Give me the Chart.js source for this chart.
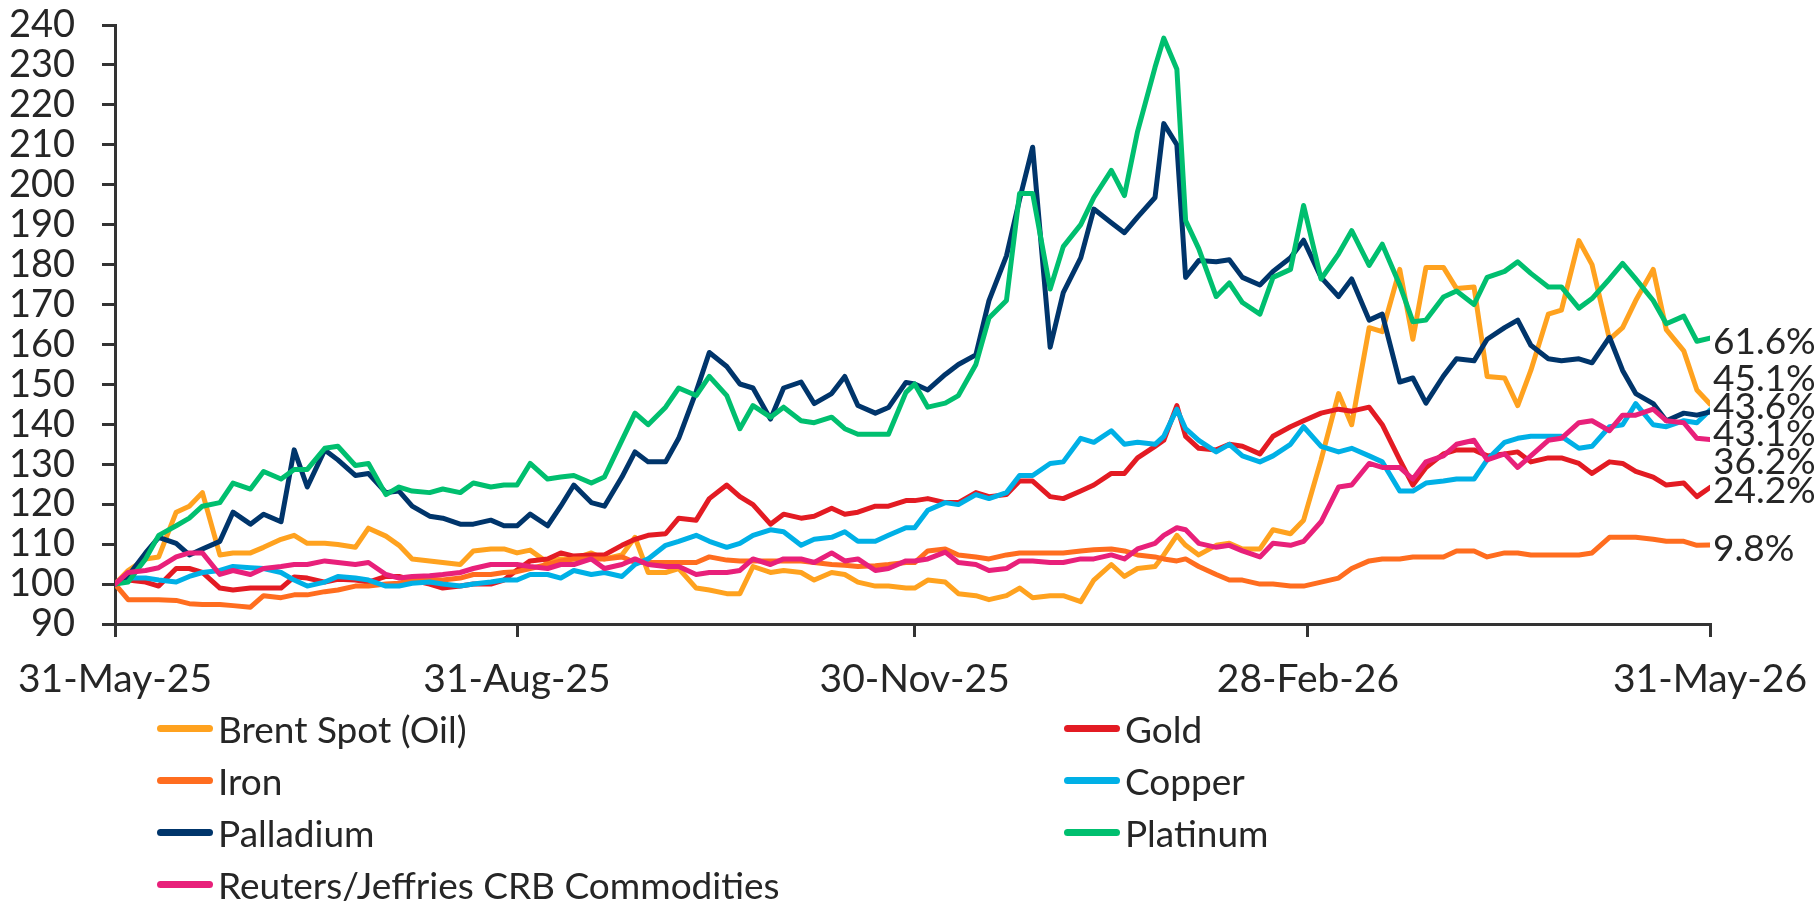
<!DOCTYPE html>
<html>
<head>
<meta charset="utf-8">
<script src="https://cdn.jsdelivr.net/npm/chart.js@4.4.1/dist/chart.umd.min.js"></script>
<style>
  html, body { margin: 0; padding: 0; background: #fff; }
  #wrap { position: relative; width: 1819px; height: 904px; }
  #legend { position: absolute; left: 157px; top: 702px; display: grid;
    grid-template-columns: 907px auto; grid-auto-rows: 52px;
    font-family: Lato, 'Open Sans', sans-serif; font-size: 37px; color: #262626; }
  #legend .item { display: flex; align-items: center; white-space: nowrap; }
  #legend .sw { width: 56px; height: 7px; border-radius: 4px; margin-right: 5px; }
</style>
</head>
<body>
<div id="wrap">
  <canvas id="chart" width="1819" height="904"></canvas>
  <div id="legend"></div>
</div>
<script>
// day offsets from 31-May-25
const days = [0,3,7,10,14,17,20,24,27,31,34,38,41,44,48,51,55,58,62,65,68,72,75,79,82,86,89,
  92,95,99,102,105,109,112,116,119,122,126,129,133,136,140,143,146,150,153,157,160,164,167,170,174,177,181,
  183,186,190,193,197,200,204,207,210,214,217,221,224,228,231,234,238,240,243,245,248,252,255,258,262,265,269,272,
  276,280,283,287,290,294,297,300,304,307,311,314,318,321,324,328,331,335,338,342,345,348,352,355,359,362,365];

const tickDays = [0, 92, 183, 273, 365];
const tickLabels = ['31-May-25', '31-Aug-25', '30-Nov-25', '28-Feb-26', '31-May-26'];

const brent = [100,103.4,106.3,106.8,118,119.5,122.9,107.3,107.8,107.8,109.2,111.2,112.2,110.2,110.2,109.9,109.2,114,112,109.7,106.3,105.8,105.4,104.9,108.3,108.8,108.8,
  107.8,108.5,105.4,106.3,106.3,107.8,106.3,107.3,111.7,102.9,102.9,103.9,99,98.5,97.6,97.6,104.4,102.9,103.4,102.9,101,102.9,102.4,100.5,99.5,99.5,99,
  99,101,100.5,97.6,97.1,96.1,97.1,99,96.6,97.1,97.1,95.6,101,104.9,101.9,103.9,104.4,107.3,112.2,109.7,107.3,109.7,110.2,108.8,108.8,113.6,112.6,116,
  131.1,147.7,139.9,164.2,163.2,178.8,161.3,179.3,179.3,174,174.4,152,151.6,144.7,153.5,167.6,168.6,186,180,161.3,164.2,171,178.8,163.7,158.4,148.6,145.1];

const gold = [100,101,100.5,99.5,103.9,103.9,102.9,99,98.5,99,99,99,101.8,101.5,100.5,101.2,101,100.5,101.9,101.9,101,100,99,99.5,100,100,101,
  103.5,105.8,106.3,107.8,107,107.3,107.3,109.7,111.2,112.2,112.6,116.5,116,121.4,124.8,121.9,119.9,115,117.5,116.5,117,119,117.5,118,119.5,119.5,120.9,
  120.9,121.4,120.4,120.4,122.9,121.9,122.4,125.8,125.8,121.9,121.4,123.3,124.8,127.7,127.7,131.6,134.5,136,144.7,137,134,133.6,135,134.5,132.6,137,139.4,140.9,
  142.8,143.8,143.3,144.3,139.9,131.1,124.8,129.2,132.6,133.6,133.6,132.1,132.6,133.1,130.6,131.6,131.6,130.2,127.7,130.6,130.2,128.2,126.8,124.8,125.3,121.9,124.2];

const iron = [100,96.1,96.1,96.1,95.9,95.1,94.9,94.9,94.6,94.2,97.1,96.6,97.3,97.3,98.1,98.5,99.5,99.5,100,100.2,101,101.2,101,101.5,102.4,102.4,102.9,
  103.1,103.9,104.9,105.8,106.3,106.3,106.3,106.8,105.4,105.4,105.4,105.4,105.4,106.8,106,105.8,105.8,105.8,105.8,105.8,105.4,104.9,104.7,104.4,104.6,104.9,105.4,
  105.4,108.3,108.8,107.3,106.8,106.3,107.3,107.8,107.8,107.8,107.8,108.3,108.6,108.8,108.3,107.3,106.8,106.3,105.8,106.3,104.4,102.4,101,101,100,100,99.5,99.5,
  100.5,101.5,103.9,105.8,106.3,106.3,106.8,106.8,106.8,108.3,108.3,106.8,107.8,107.8,107.3,107.3,107.3,107.3,107.8,111.7,111.7,111.7,111.2,110.7,110.7,109.7,109.8];

const copper = [100,101.5,101.5,101,100.5,101.9,102.9,103.4,104.4,104.1,103.9,102.9,101,99.5,100.5,101.9,101.5,101,99.5,99.5,100.2,100.5,100,99.5,100,100.5,101,
  101,102.4,102.4,101.5,103.4,102.4,102.9,101.9,104.9,106.3,109.7,110.7,112.2,110.7,109.2,110.2,112.2,113.6,113.1,109.7,111.2,111.7,113.1,110.7,110.7,112.2,114.1,
  114.1,118.5,120.4,119.9,122.4,121.4,122.9,127.2,127.2,130.2,130.6,136.5,135.5,138.4,135,135.5,135,137,143.8,138.9,136,133.1,135,132.1,130.6,132.1,135,139.4,
  134.5,133.1,134,132.1,130.6,123.3,123.3,125.3,125.8,126.3,126.3,131.1,135.5,136.5,137,137,137,134,134.5,139.4,139.9,145.2,139.9,139.4,140.9,140.4,143.6];

const palladium = [100,102,107.8,111.7,110.2,107.3,108.8,110.7,118,115,117.5,115.6,133.6,124.3,133.6,131.1,127.2,127.7,122.9,123.3,119.5,117,116.5,115,115,116,114.6,
  114.6,117.5,114.6,119.5,124.8,120.4,119.5,126.8,133.1,130.6,130.6,136.5,148.2,158,154.5,150.1,149.1,141.3,149.1,150.6,145.2,147.7,152,144.7,142.8,144.2,150.5,
  150.1,148.6,152.5,155,157.4,171,182.2,196.3,209.4,159.3,173,181.7,193.9,190.5,188,191.9,196.8,215.3,210,176.8,181,180.7,181.2,176.8,174.9,178.3,181.7,186.1,
  176.8,172,176.4,166.1,167.6,150.6,151.6,145.3,152.1,156.4,155.9,161.3,164.2,166.1,159.8,156.4,155.9,156.4,155.4,161.8,153.5,147.7,145.2,140.9,142.8,142.3,143.1];

const platinum = [100,100.5,106.3,112.2,114.6,116.5,119.5,120.4,125.3,123.8,128.2,126.3,128.7,128.7,134,134.5,129.7,130.2,122.4,124.3,123.3,122.9,123.8,122.9,125.3,124.3,124.8,
  124.8,130.2,126.3,126.8,127.2,125.3,126.8,136,142.8,139.9,144.3,149.1,147.2,152,147.2,138.9,144.7,141.8,144.3,140.9,140.4,141.8,138.9,137.5,137.5,137.5,148,
  150.1,144.3,145.3,147.2,155,166.6,171,197.8,197.8,173.9,184.5,190,196.8,203.6,197.3,213.3,229.4,236.7,228.9,191,184,172,175.4,170.5,167.6,176.8,178.8,194.8,
  176.4,182.7,188.5,179.8,185.1,174.9,165.7,166.1,171.9,173.4,170,176.8,178.3,180.7,177.8,174.4,174.4,169.1,171.5,176.4,180.3,176.4,171,165.2,167.1,160.8,161.6];

const crb = [100,102.9,103.4,104.1,106.8,107.8,107.8,102.4,103.4,102.4,103.9,104.4,104.9,104.9,105.8,105.4,104.9,105.4,102.4,101.5,101.9,102.1,102.4,102.9,103.9,104.9,104.9,
  104.9,104.4,103.9,104.9,104.9,106.3,103.9,104.9,106.3,104.9,104.4,104.4,102.4,102.9,102.9,103.4,106.3,104.9,106.3,106.3,105.4,107.8,105.8,106.3,103.4,103.9,105.8,
  105.8,106.3,108,105.4,104.9,103.4,103.9,105.8,105.8,105.4,105.4,106.3,106.3,107.3,106.3,108.8,110.2,112.2,114.1,113.6,110.2,109.2,109.7,108.3,106.8,110.2,109.7,110.7,
  115.6,124.3,124.8,130.2,129.2,129.2,126.3,130.6,132.1,135,136,131.1,132.6,129.2,132.1,136,136.5,140.4,140.9,138.4,142.3,142.3,143.8,140.9,140.4,136.5,136.2];

const names = ['Brent Spot (Oil)', 'Gold', 'Iron', 'Copper', 'Palladium', 'Platinum', 'Reuters/Jeffries CRB Commodities'];
const colors = ['#FFA21F', '#E31B23', '#FF6D1F', '#00B0E6', '#00356B', '#00BF6F', '#E8207A'];
const series = [brent, gold, iron, copper, palladium, platinum, crb];

const FONT = 'Lato, "Open Sans", sans-serif';
const TXT = '#262626';
const AXIS = '#333333';

const datasets = series.map((vals, i) => ({
  label: names[i],
  data: days.map((d, j) => ({ x: d, y: vals[j] })),
  borderColor: colors[i],
  backgroundColor: colors[i],
  borderWidth: 5,
  pointRadius: 0,
  tension: 0,
  borderJoinStyle: 'round',
  borderCapStyle: 'round',
  order: series.length - i   // later series drawn on top, like the original
}));

// end-of-line % change labels, spread apart when they collide
const endLabels = {
  id: 'endLabels',
  afterDatasetsDraw(chart) {
    const ctx = chart.ctx, gap = 27.5;
    const items = chart.data.datasets.map((ds, i) => {
      const meta = chart.getDatasetMeta(i);
      const pt = meta.data[meta.data.length - 1];
      const last = ds.data[ds.data.length - 1].y;
      return { text: (last - 100).toFixed(1) + '%', want: pt.y + 4 };
    }).sort((a, b) => a.want - b.want);
    const groups = [];
    items.forEach(it => {
      groups.push({ list: [it], mean: it.want });
      while (groups.length > 1) {
        const g = groups[groups.length - 1], p = groups[groups.length - 2];
        const pBottom = p.mean + (p.list.length - 1) * gap / 2;
        const gTop = g.mean - (g.list.length - 1) * gap / 2;
        if (gTop - pBottom >= gap) break;
        const list = p.list.concat(g.list);
        groups.splice(-2, 2, { list, mean: list.reduce((s, x) => s + x.want, 0) / list.length });
      }
    });
    ctx.save();
    ctx.font = '37px ' + FONT;
    ctx.fillStyle = TXT;
    ctx.textAlign = 'left';
    ctx.textBaseline = 'middle';
    const x = chart.chartArea.right + 3;
    groups.forEach(g => {
      const top = g.mean - (g.list.length - 1) * gap / 2;
      g.list.forEach((it, k) => ctx.fillText(it.text, x, top + k * gap));
    });
    ctx.restore();
  }
};

const chart = new Chart(document.getElementById('chart').getContext('2d'), {
  type: 'line',
  data: { datasets },
  plugins: [endLabels],
  options: {
    responsive: false,
    animation: false,
    layout: { padding: { left: 0, top: 25, right: 109, bottom: 0 } },
    plugins: { legend: { display: false }, tooltip: { enabled: false } },
    scales: {
      x: {
        type: 'linear', min: 0, max: 365,
        afterBuildTicks: s => { s.ticks = tickDays.map(v => ({ value: v })); },
        afterFit: s => { s.height = 280; s.paddingLeft = 0; s.paddingRight = 0; },
        ticks: {
          autoSkip: false, maxRotation: 0, padding: 19, color: TXT,
          font: { family: FONT, size: 39 },
          callback: v => tickLabels[tickDays.indexOf(v)]
        },
        grid: { drawOnChartArea: false, drawTicks: true, tickLength: 13, color: AXIS, lineWidth: 3 },
        border: { display: true, color: AXIS, width: 3 }
      },
      y: {
        min: 90, max: 240,
        afterFit: s => { s.width = 115; s.paddingTop = 0; s.paddingBottom = 0; },
        ticks: { stepSize: 10, autoSkip: false, padding: 27, color: TXT, font: { family: FONT, size: 38 } },
        grid: { drawOnChartArea: false, drawTicks: true, tickLength: 13, color: AXIS, lineWidth: 3 },
        border: { display: true, color: AXIS, width: 3 }
      }
    }
  }
});

// legend in two columns, built from the chart's datasets
const legend = document.getElementById('legend');
chart.data.datasets.forEach(ds => {
  const item = document.createElement('div');
  item.className = 'item';
  const sw = document.createElement('span');
  sw.className = 'sw';
  sw.style.background = ds.borderColor;
  const txt = document.createElement('span');
  txt.textContent = ds.label;
  item.appendChild(sw);
  item.appendChild(txt);
  legend.appendChild(item);
});
</script>
</body>
</html>
